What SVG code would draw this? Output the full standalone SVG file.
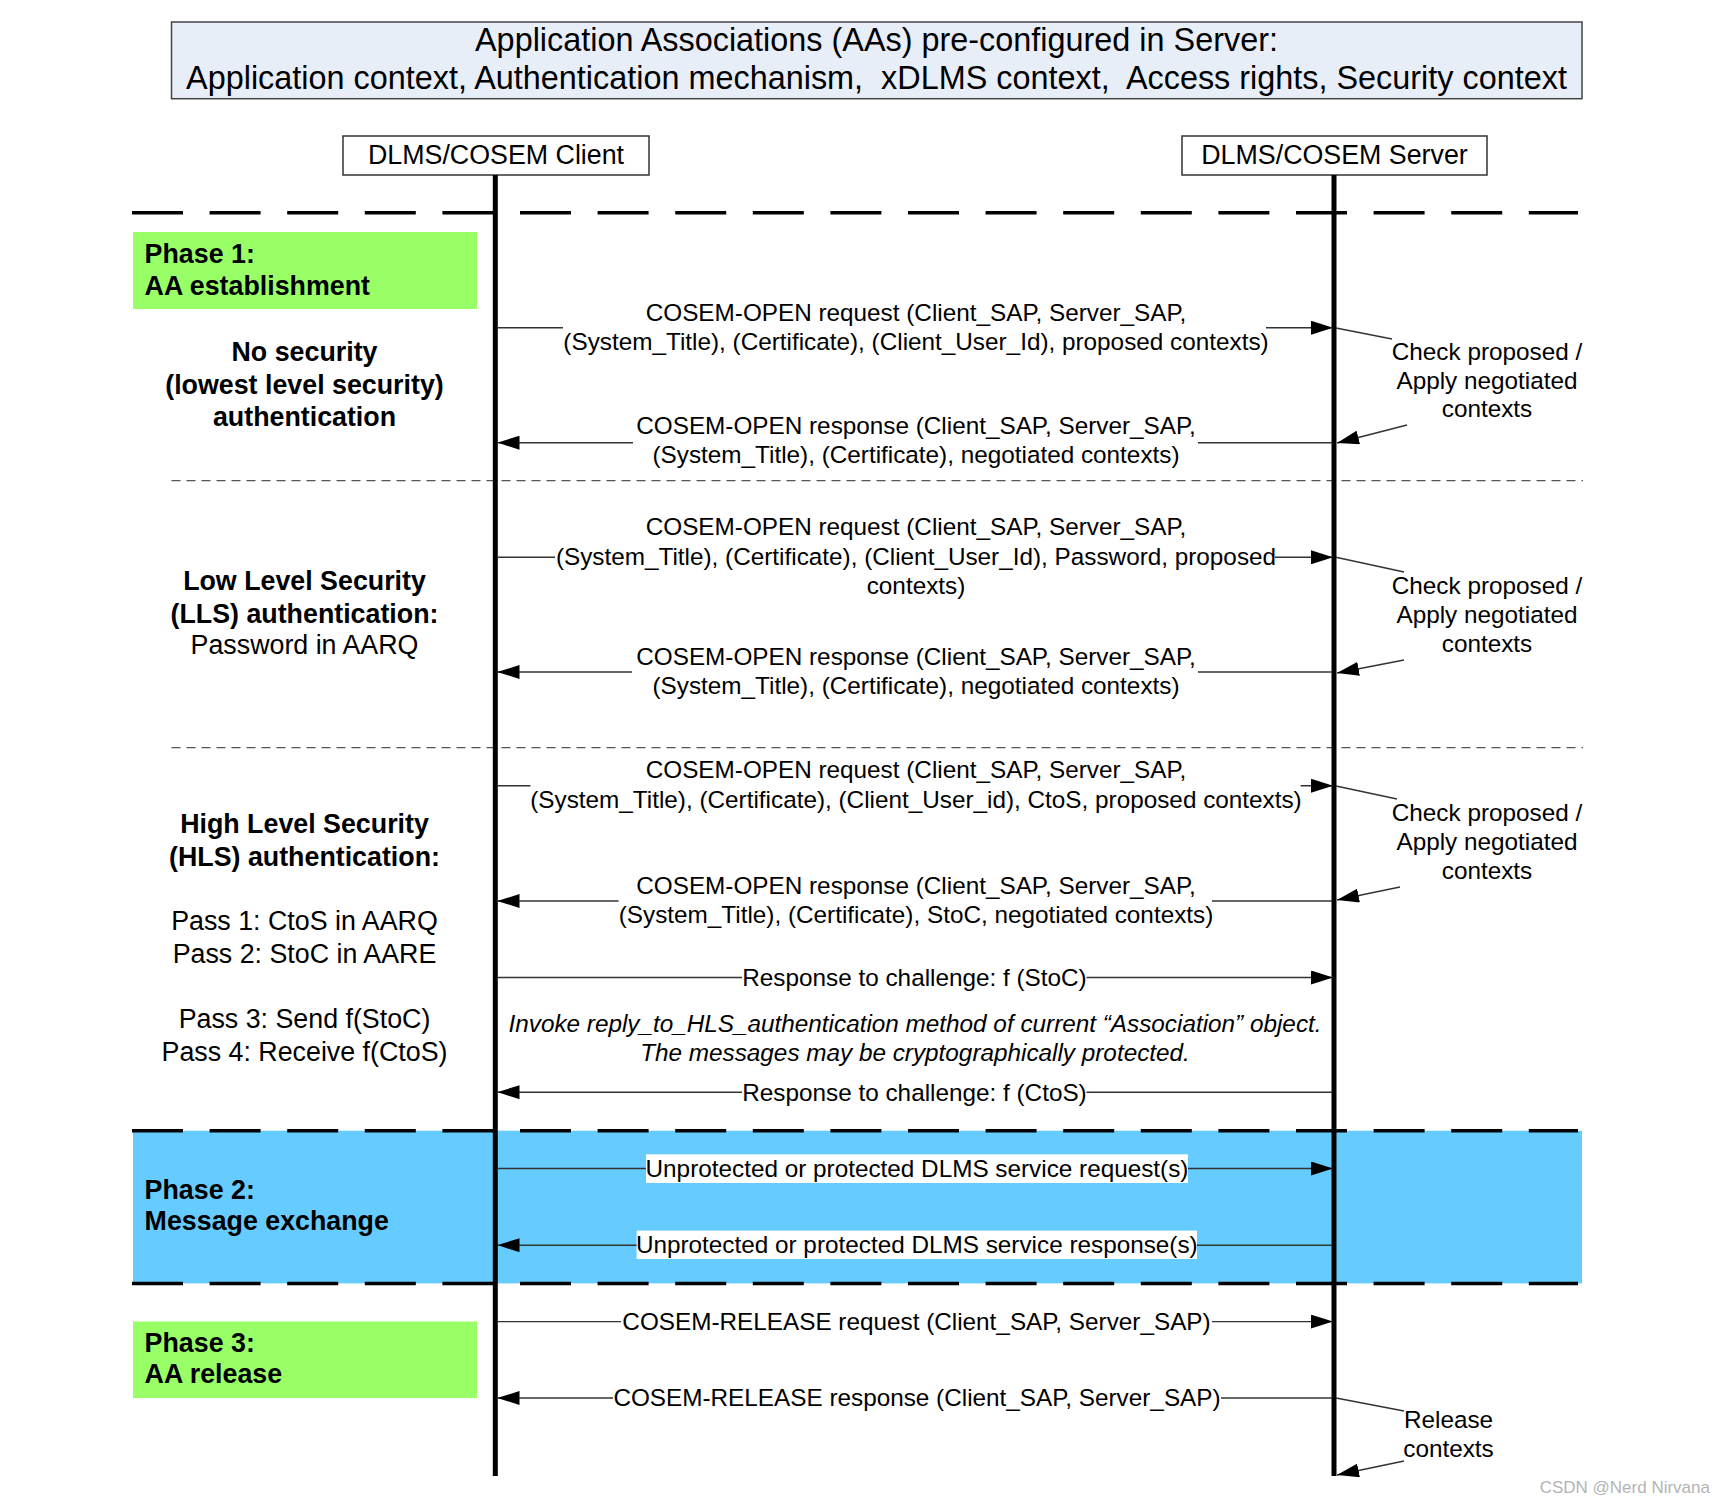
<svg xmlns="http://www.w3.org/2000/svg" width="1725" height="1504" viewBox="0 0 1725 1504">
<style>
text{font-family:"Liberation Sans",Arial,sans-serif;fill:#000}
.t32{font-size:32.4px}
.t26{font-size:26.8px}
.b26{font-size:26.8px;font-weight:bold}
.t24{font-size:24.3px}
.it{font-size:24.3px;font-style:italic}
.mid{text-anchor:middle}
.msg{fill:none;stroke:#333;stroke-width:1.4}
.life{stroke:#000;stroke-width:5}
.thick{stroke:#000;stroke-width:3.5;stroke-dasharray:51 26.6}
.thin{stroke:#555;stroke-width:1.3;stroke-dasharray:9 6}
.box{fill:#fff;stroke:#333;stroke-width:1.5}
.green{fill:#99FF66}
</style>
<defs>
<marker id="ah" viewBox="0 0 22 14" refX="22" refY="7" markerWidth="22" markerHeight="14" markerUnits="userSpaceOnUse" orient="auto"><path d="M0,0 L22,7 L0,14 z" fill="#000"/></marker>
</defs>
<rect width="1725" height="1504" fill="#fff"/>

<g id="title">
<rect x="171.5" y="22" width="1410.5" height="76.7" fill="#E8EEF8" stroke="#444" stroke-width="1.5"/>
<text class="t32 mid" x="876.5" y="50.7">Application Associations (AAs) pre-configured in Server:</text>
<text class="t32 mid" x="876.5" y="89.3" xml:space="preserve">Application context, Authentication mechanism,  xDLMS context,  Access rights, Security context</text>
</g>

<g id="phase2-band">
<rect x="133" y="1130.7" width="1449" height="152.7" fill="#66CCFF"/>
</g>

<g id="separators">
<line class="thick" x1="132" y1="212.7" x2="1578" y2="212.7"/>
<line class="thick" x1="132" y1="1130.7" x2="1578" y2="1130.7"/>
<line class="thick" x1="132" y1="1283.4" x2="1578" y2="1283.4"/>
<line class="thin" x1="171.5" y1="480.7" x2="1583" y2="480.7"/>
<line class="thin" x1="171.5" y1="747.7" x2="1583" y2="747.7"/>
</g>

<g id="phase1">
<rect class="green" x="133" y="232" width="344" height="77"/>
<text class="b26" x="144.6" y="263.3">Phase 1:</text>
<text class="b26" x="144.6" y="295">AA establishment</text>
</g>

<g id="no-security">
<text class="b26 mid" x="304.5" y="361">No security</text>
<text class="b26 mid" x="304.5" y="393.5">(lowest level security)</text>
<text class="b26 mid" x="304.5" y="426">authentication</text>
</g>

<g id="lls">
<text class="b26 mid" x="304.5" y="590">Low Level Security</text>
<text class="b26 mid" x="304.5" y="622.7">(LLS) authentication:</text>
<text class="t26 mid" x="304.5" y="654">Password in AARQ</text>
</g>

<g id="hls">
<text class="b26 mid" x="304.5" y="833">High Level Security</text>
<text class="b26 mid" x="304.5" y="866">(HLS) authentication:</text>
<text class="t26 mid" x="304.5" y="930">Pass 1: CtoS in AARQ</text>
<text class="t26 mid" x="304.5" y="963">Pass 2: StoC in AARE</text>
<text class="t26 mid" x="304.5" y="1027.7">Pass 3: Send f(StoC)</text>
<text class="t26 mid" x="304.5" y="1060.6">Pass 4: Receive f(CtoS)</text>
</g>

<g id="phase2">
<text class="b26" x="144.6" y="1198.7">Phase 2:</text>
<text class="b26" x="144.6" y="1230">Message exchange</text>
</g>

<g id="phase3">
<rect class="green" x="133" y="1321.5" width="344" height="76.5"/>
<text class="b26" x="144.6" y="1352">Phase 3:</text>
<text class="b26" x="144.6" y="1383">AA release</text>
</g>

<g id="client">
<rect class="box" x="343" y="136" width="306" height="39"/>
<text class="t26 mid" x="496" y="164">DLMS/COSEM Client</text>
<line class="life" x1="495.3" y1="175" x2="495.3" y2="1476"/>
</g>

<g id="server">
<rect class="box" x="1182" y="136" width="305" height="39"/>
<text class="t26 mid" x="1334.5" y="164">DLMS/COSEM Server</text>
<line class="life" x1="1334" y1="175" x2="1334" y2="1476"/>
</g>

<g id="connectors">
<path class="msg" d="M497 327.7 H563"/><path class="msg" d="M1266 327.7 H1333" marker-end="url(#ah)"/>
<path class="msg" d="M1332 442.7 H1198"/><path class="msg" d="M633 442.7 H497.5" marker-end="url(#ah)"/>
<path class="msg" d="M497 557.3 H555"/><path class="msg" d="M1275 557.3 H1333" marker-end="url(#ah)"/>
<path class="msg" d="M1332 672 H1198"/><path class="msg" d="M632 672 H497.5" marker-end="url(#ah)"/>
<path class="msg" d="M497 785.7 H530.5"/><path class="msg" d="M1300.6 785.7 H1333" marker-end="url(#ah)"/>
<path class="msg" d="M1332 901 H1212"/><path class="msg" d="M618.5 901 H497.5" marker-end="url(#ah)"/>
<path class="msg" d="M497 977.5 H742"/><path class="msg" d="M1086.5 977.5 H1333" marker-end="url(#ah)"/>
<path class="msg" d="M1332 1092.2 H1086.5"/><path class="msg" d="M742 1092.2 H497.5" marker-end="url(#ah)"/>
<path class="msg" d="M497 1168.5 H646"/><path class="msg" d="M1188 1168.5 H1333" marker-end="url(#ah)"/>
<path class="msg" d="M1332 1245.2 H1197"/><path class="msg" d="M637 1245.2 H497.5" marker-end="url(#ah)"/>
<path class="msg" d="M497 1321.6 H621"/><path class="msg" d="M1212 1321.6 H1333" marker-end="url(#ah)"/>
<path class="msg" d="M1332 1398 H1221"/><path class="msg" d="M613 1398 H497.5" marker-end="url(#ah)"/>
<path class="msg" d="M1336 328 L1392 339"/><path class="msg" d="M1407 425 L1337 443" marker-end="url(#ah)"/>
<path class="msg" d="M1336 557.3 L1404 572"/><path class="msg" d="M1404 660 L1337 673" marker-end="url(#ah)"/>
<path class="msg" d="M1336 786 L1397 799"/><path class="msg" d="M1400 887 L1337 900" marker-end="url(#ah)"/>
<path class="msg" d="M1336 1398 L1404 1411"/><path class="msg" d="M1404 1461 L1337 1475" marker-end="url(#ah)"/>
</g>

<g id="msg-open-req-1">
<text class="t24 mid" x="916" y="321">COSEM-OPEN request (Client_SAP, Server_SAP,</text>
<text class="t24 mid" x="916" y="350">(System_Title), (Certificate), (Client_User_Id), proposed contexts)</text>
</g>
<g id="msg-open-resp-1">
<text class="t24 mid" x="916" y="434">COSEM-OPEN response (Client_SAP, Server_SAP,</text>
<text class="t24 mid" x="916" y="463">(System_Title), (Certificate), negotiated contexts)</text>
</g>
<g id="msg-open-req-2">
<text class="t24 mid" x="916" y="535">COSEM-OPEN request (Client_SAP, Server_SAP,</text>
<text class="t24 mid" x="916" y="565">(System_Title), (Certificate), (Client_User_Id), Password, proposed</text>
<text class="t24 mid" x="916" y="594">contexts)</text>
</g>
<g id="msg-open-resp-2">
<text class="t24 mid" x="916" y="665">COSEM-OPEN response (Client_SAP, Server_SAP,</text>
<text class="t24 mid" x="916" y="694">(System_Title), (Certificate), negotiated contexts)</text>
</g>
<g id="msg-open-req-3">
<text class="t24 mid" x="916" y="778">COSEM-OPEN request (Client_SAP, Server_SAP,</text>
<text class="t24 mid" x="916" y="808">(System_Title), (Certificate), (Client_User_id), CtoS, proposed contexts)</text>
</g>
<g id="msg-open-resp-3">
<text class="t24 mid" x="916" y="894">COSEM-OPEN response (Client_SAP, Server_SAP,</text>
<text class="t24 mid" x="916" y="923">(System_Title), (Certificate), StoC, negotiated contexts)</text>
</g>
<g id="msg-stoc">
<text class="t24 mid" x="914.5" y="985.8">Response to challenge: f (StoC)</text>
</g>
<g id="note-hls">
<text class="it mid" x="915" y="1032">Invoke reply_to_HLS_authentication method of current “Association” object.</text>
<text class="it mid" x="915" y="1060.6">The messages may be cryptographically protected.</text>
</g>
<g id="msg-ctos">
<text class="t24 mid" x="914.5" y="1100.5">Response to challenge: f (CtoS)</text>
</g>
<g id="msg-dlms-req">
<rect x="646" y="1154.3" width="542" height="28.7" fill="#fff"/>
<text class="t24 mid" x="917" y="1176.8">Unprotected or protected DLMS service request(s)</text>
</g>
<g id="msg-dlms-resp">
<rect x="636.6" y="1230.6" width="560.4" height="28.4" fill="#fff"/>
<text class="t24 mid" x="916.8" y="1253.3">Unprotected or protected DLMS service response(s)</text>
</g>
<g id="msg-release-req">
<text class="t24 mid" x="916.5" y="1330">COSEM-RELEASE request (Client_SAP, Server_SAP)</text>
</g>
<g id="msg-release-resp">
<text class="t24 mid" x="917" y="1406.4">COSEM-RELEASE response (Client_SAP, Server_SAP)</text>
</g>

<g id="note-check-1">
<text class="t24 mid" x="1487" y="360">Check proposed /</text>
<text class="t24 mid" x="1487" y="388.5">Apply negotiated</text>
<text class="t24 mid" x="1487" y="417">contexts</text>
</g>
<g id="note-check-2">
<text class="t24 mid" x="1487" y="594">Check proposed /</text>
<text class="t24 mid" x="1487" y="623">Apply negotiated</text>
<text class="t24 mid" x="1487" y="652">contexts</text>
</g>
<g id="note-check-3">
<text class="t24 mid" x="1487" y="820.7">Check proposed /</text>
<text class="t24 mid" x="1487" y="850">Apply negotiated</text>
<text class="t24 mid" x="1487" y="878.5">contexts</text>
</g>
<g id="note-release">
<text class="t24 mid" x="1448.5" y="1428">Release</text>
<text class="t24 mid" x="1448.5" y="1457">contexts</text>
</g>

<text x="1710" y="1492.6" style="font-size:17px;fill:#b4b4b4;text-anchor:end">CSDN @Nerd Nirvana</text>
</svg>
